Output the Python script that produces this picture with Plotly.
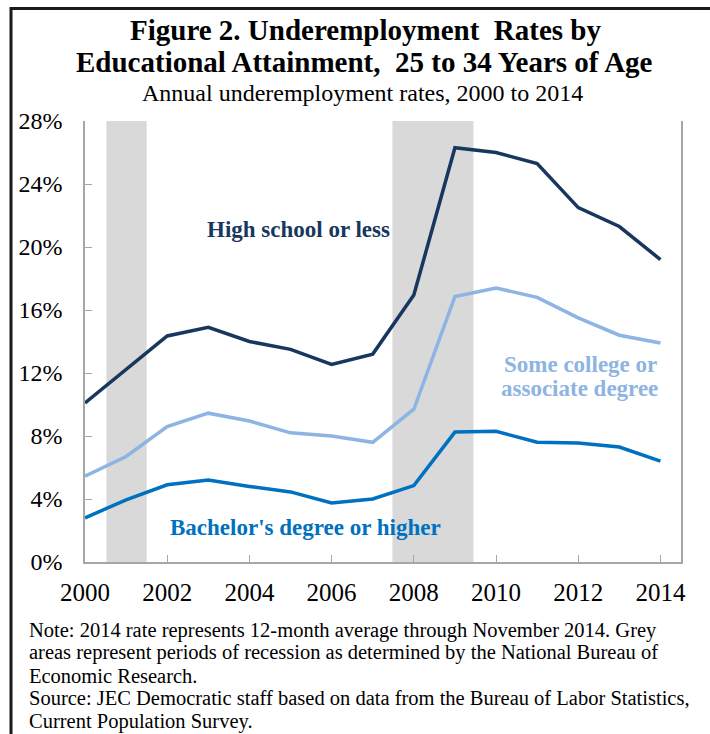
import plotly.graph_objects as go

years = list(range(2000, 2015))
high_school = [10.1, 12.2, 14.35, 14.9, 14.0, 13.5, 12.55, 13.2, 16.95, 26.3, 26.0, 25.3, 22.5, 21.3, 19.2]
some_college = [5.45, 6.7, 8.6, 9.45, 8.95, 8.2, 8.0, 7.6, 9.7, 16.85, 17.4, 16.8, 15.5, 14.4, 13.9]
bachelors = [2.8, 3.95, 4.9, 5.2, 4.8, 4.45, 3.75, 4.0, 4.85, 8.25, 8.3, 7.6, 7.55, 7.3, 6.4]
recessions = [(2000.52, 2001.5), (2007.48, 2009.45)]
y_ticks = [0, 4, 8, 12, 16, 20, 24, 28]
y_tick_labels = [f"{v}%" for v in y_ticks]
x_ticks = list(range(2000, 2015, 2))

C_HS = "#17375E"
C_SC = "#8DB4E2"
C_BA = "#0070C0"
FONT = "Liberation Serif"

W, H = 710, 734
ML, MR, MT, MB = 85, 29, 121, 172
PW, PH = W - ML - MR, H - MT - MB

def px(x):
    return (x - ML) / PW

def py(y):
    return (H - MB - y) / PH

fig = go.Figure()
for name, vals, col in [("High school or less", high_school, C_HS),
                        ("Some college or associate degree", some_college, C_SC),
                        ("Bachelor's degree or higher", bachelors, C_BA)]:
    fig.add_trace(go.Scatter(x=years, y=vals, mode="lines", name=name,
                             line=dict(color=col, width=3.5), hoverinfo="x+y"))

shapes = []
for a, b in recessions:
    shapes.append(dict(type="rect", xref="x", yref="paper", x0=a, x1=b, y0=0, y1=1,
                       fillcolor="#D9D9D9", line=dict(width=0), layer="below"))
# outer frame
shapes.append(dict(type="rect", xref="paper", yref="paper",
                   x0=px(11), x1=px(720), y0=py(745), y1=py(8.5),
                   line=dict(color="#1A1A1A", width=3), fillcolor="rgba(0,0,0,0)"))

annotations = [
    dict(text="<b>Figure 2. Underemployment  Rates by</b>", x=px(365), y=py(30), font=dict(size=29, color="#000")),
    dict(text="<b>Educational Attainment,  25 to 34 Years of Age</b>", x=px(364), y=py(62), font=dict(size=29, color="#000")),
    dict(text="Annual underemployment rates, 2000 to 2014", x=px(362), y=py(93), font=dict(size=24, color="#000")),
    dict(text="<b>High school or less</b>", x=px(298), y=py(229), font=dict(size=23, color=C_HS)),
    dict(text="<b>Some college or</b>", x=px(659), y=py(364), xanchor="right", font=dict(size=23, color=C_SC)),
    dict(text="<b>associate degree</b>", x=px(660), y=py(389), xanchor="right", font=dict(size=23, color=C_SC)),
    dict(text="<b>Bachelor's degree or higher</b>", x=px(305), y=py(527), font=dict(size=23, color=C_BA)),
]
notes = [
    "Note: 2014 rate represents 12-month average through November 2014. Grey",
    "areas represent periods of recession as determined by the National Bureau of",
    "Economic Research.",
    "Source: JEC Democratic staff based on data from the Bureau of Labor Statistics,",
    "Current Population Survey.",
]
for i, t in enumerate(notes):
    annotations.append(dict(text=t, x=px(27), y=py(630 + 22.8 * i), xanchor="left",
                            font=dict(size=20.5, color="#000")))
for a in annotations:
    a.setdefault("xref", "paper")
    a.setdefault("yref", "paper")
    a.setdefault("xanchor", "center")
    a["yanchor"] = "middle"
    a["showarrow"] = False

fig.update_layout(
    width=W, height=H,
    margin=dict(l=ML, r=MR, t=MT, b=MB),
    paper_bgcolor="white", plot_bgcolor="white",
    font=dict(family=FONT, color="#000"),
    showlegend=False,
    shapes=shapes, annotations=annotations,
    xaxis=dict(range=[2000, 2014.5], tickmode="array", tickvals=x_ticks,
               ticks="inside", ticklen=7, tickcolor="#A6A6A6",
               showline=True, linecolor="#A6A6A6", linewidth=1.5,
               showgrid=False, zeroline=False, tickfont=dict(size=25, family=FONT),
               ticklabelstandoff=7),
    yaxis=dict(range=[0, 28], tickmode="array", tickvals=y_ticks, ticktext=y_tick_labels,
               ticks="inside", ticklen=7, tickcolor="#A6A6A6",
               showline=True, linecolor="#A6A6A6", linewidth=1.5, mirror=True,
               showgrid=False, zeroline=False, tickfont=dict(size=24, family=FONT),
               ticklabelstandoff=16),
)

fig.write_html("out.html", config={"displayModeBar": False},
               post_script="document.body.style.margin='0';document.body.style.overflow='hidden';")
